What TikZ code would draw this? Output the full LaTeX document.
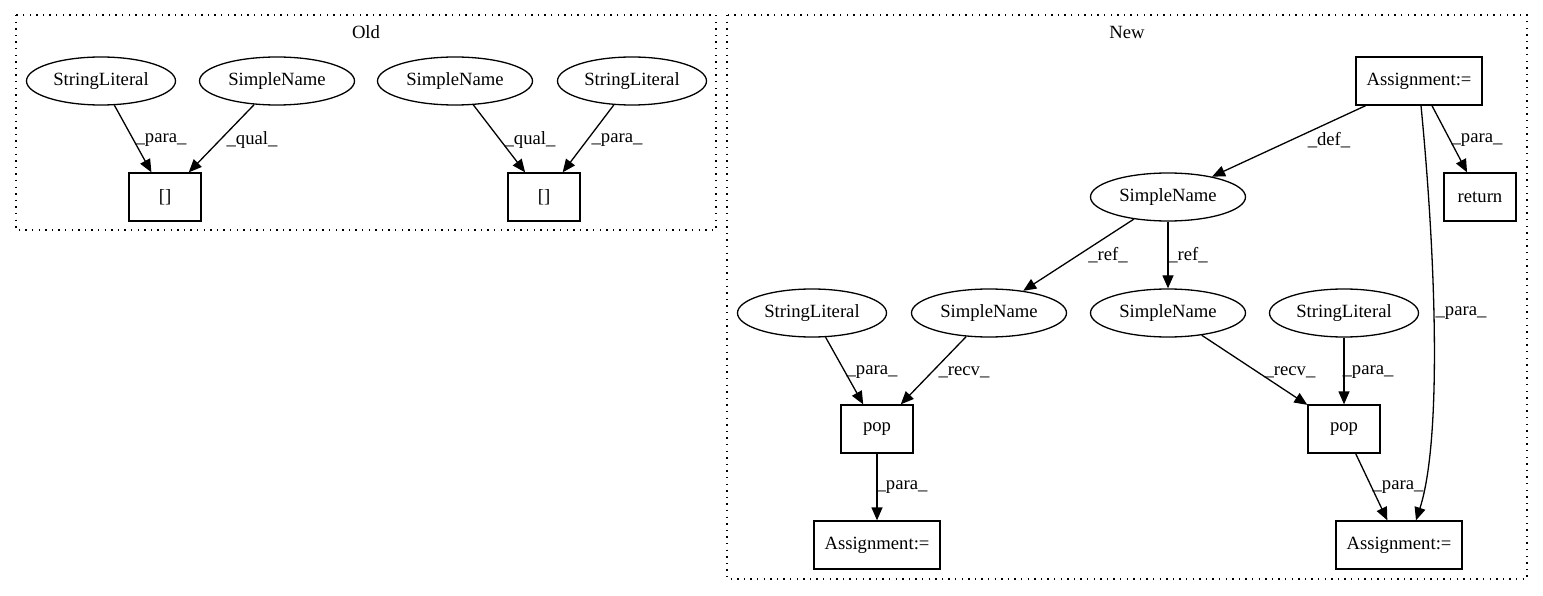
\documentclass[tikz,border=0pt]{standalone}
\usepackage{fontspec}
\setmainfont{Liberation Serif}
\usetikzlibrary{shapes.geometric,arrows.meta}
\begin{document}
\begin{tikzpicture}[x=1pt,y=-1pt,
  every node/.style={font=\fontsize{18.67}{22}\selectfont, inner sep=0pt},
  ell/.style={draw, line width=1.3pt, ellipse, minimum height=48pt},
  sl/.style={ell, minimum width=149pt},
  sn/.style={ell, minimum width=155pt},
  box/.style={draw, line width=1.3pt, rectangle, minimum width=72pt, minimum height=48pt},
  abox/.style={box, minimum width=126pt},
  cluster/.style={line width=1.3pt, dash pattern=on 1.4pt off 5.2pt},
  edge/.style={line width=1.3pt, -{Triangle[length=13pt,width=11pt]}},
  lbl/.style={anchor=center}]
\useasboundingbox (0,0) rectangle (1543,596);
% clusters
\draw[cluster] (16,15) rectangle (716,230);
\node (told) at (366,32) {Old};
\draw[cluster] (727,15) rectangle (1527,579);
\node (tnew) at (1127,32) {New};
% Old nodes
\node[sl] (osl1) at (101,81) {StringLiteral};
\node[sn] (osn1) at (277,81) {SimpleName};
\node[box] (ob1) at (165,197) {[]};
\node[sn] (osn2) at (455,81) {SimpleName};
\node[sl] (osl2) at (632,81) {StringLiteral};
\node[box] (ob2) at (544,197) {[]};
% New nodes
\node[abox] (na1) at (1419,81) {Assignment:=};
\node[sn] (nsn0) at (1168,197) {SimpleName};
\node[box] (nret) at (1480,197) {return};
\node[sl] (nsl1) at (812,313) {StringLiteral};
\node[sn] (nsn1) at (989,313) {SimpleName};
\node[sn] (nsn2) at (1168,313) {SimpleName};
\node[sl] (nsl2) at (1344,313) {StringLiteral};
\node[box] (npop1) at (877,429) {pop};
\node[box] (npop2) at (1344,429) {pop};
\node[abox] (na2) at (877,545) {Assignment:=};
\node[abox] (na3) at (1399,545) {Assignment:=};
% Old edges
\draw[edge] (osl1) -- (ob1);
\draw[edge] (osn1) -- (ob1);
\draw[edge] (osn2) -- (ob2);
\draw[edge] (osl2) -- (ob2);
\node[lbl] (l1) at (161,140) {\_para\_};
\node[lbl] (l2) at (252,140) {\_qual\_};
\node[lbl] (l3) at (530,140) {\_qual\_};
\node[lbl] (l4) at (617,140) {\_para\_};
% New edges
\draw[edge] (na1) -- (nsn0);
\draw[edge] (na1) -- (nret);
\draw[edge] ([xshift=2pt]na1.south) .. controls (1436,260) and (1442,440) .. ([xshift=17pt]na3.north);
\draw[edge] (nsn0) -- (nsn1);
\draw[edge] (nsn0) -- (nsn2);
\draw[edge] (nsl1) -- (npop1);
\draw[edge] (nsn1) -- (npop1);
\draw[edge] (nsn2) -- (npop2);
\draw[edge] (nsl2) -- (npop2);
\draw[edge] (npop1) -- (na2);
\draw[edge] (npop2) -- (na3);
\node[lbl] (l5) at (1329,140) {\_def\_};
\node[lbl] (l6) at (1477,140) {\_para\_};
\node[lbl] (l7) at (1108,255) {\_ref\_};
\node[lbl] (l8) at (1188,255) {\_ref\_};
\node[lbl] (l9) at (1461,313) {\_para\_};
\node[lbl] (l10) at (872,372) {\_para\_};
\node[lbl] (l11) at (964,372) {\_recv\_};
\node[lbl] (l12) at (1290,372) {\_recv\_};
\node[lbl] (l13) at (1368,372) {\_para\_};
\node[lbl] (l14) at (902,487) {\_para\_};
\node[lbl] (l15) at (1398,487) {\_para\_};
\end{tikzpicture}
\end{document}
